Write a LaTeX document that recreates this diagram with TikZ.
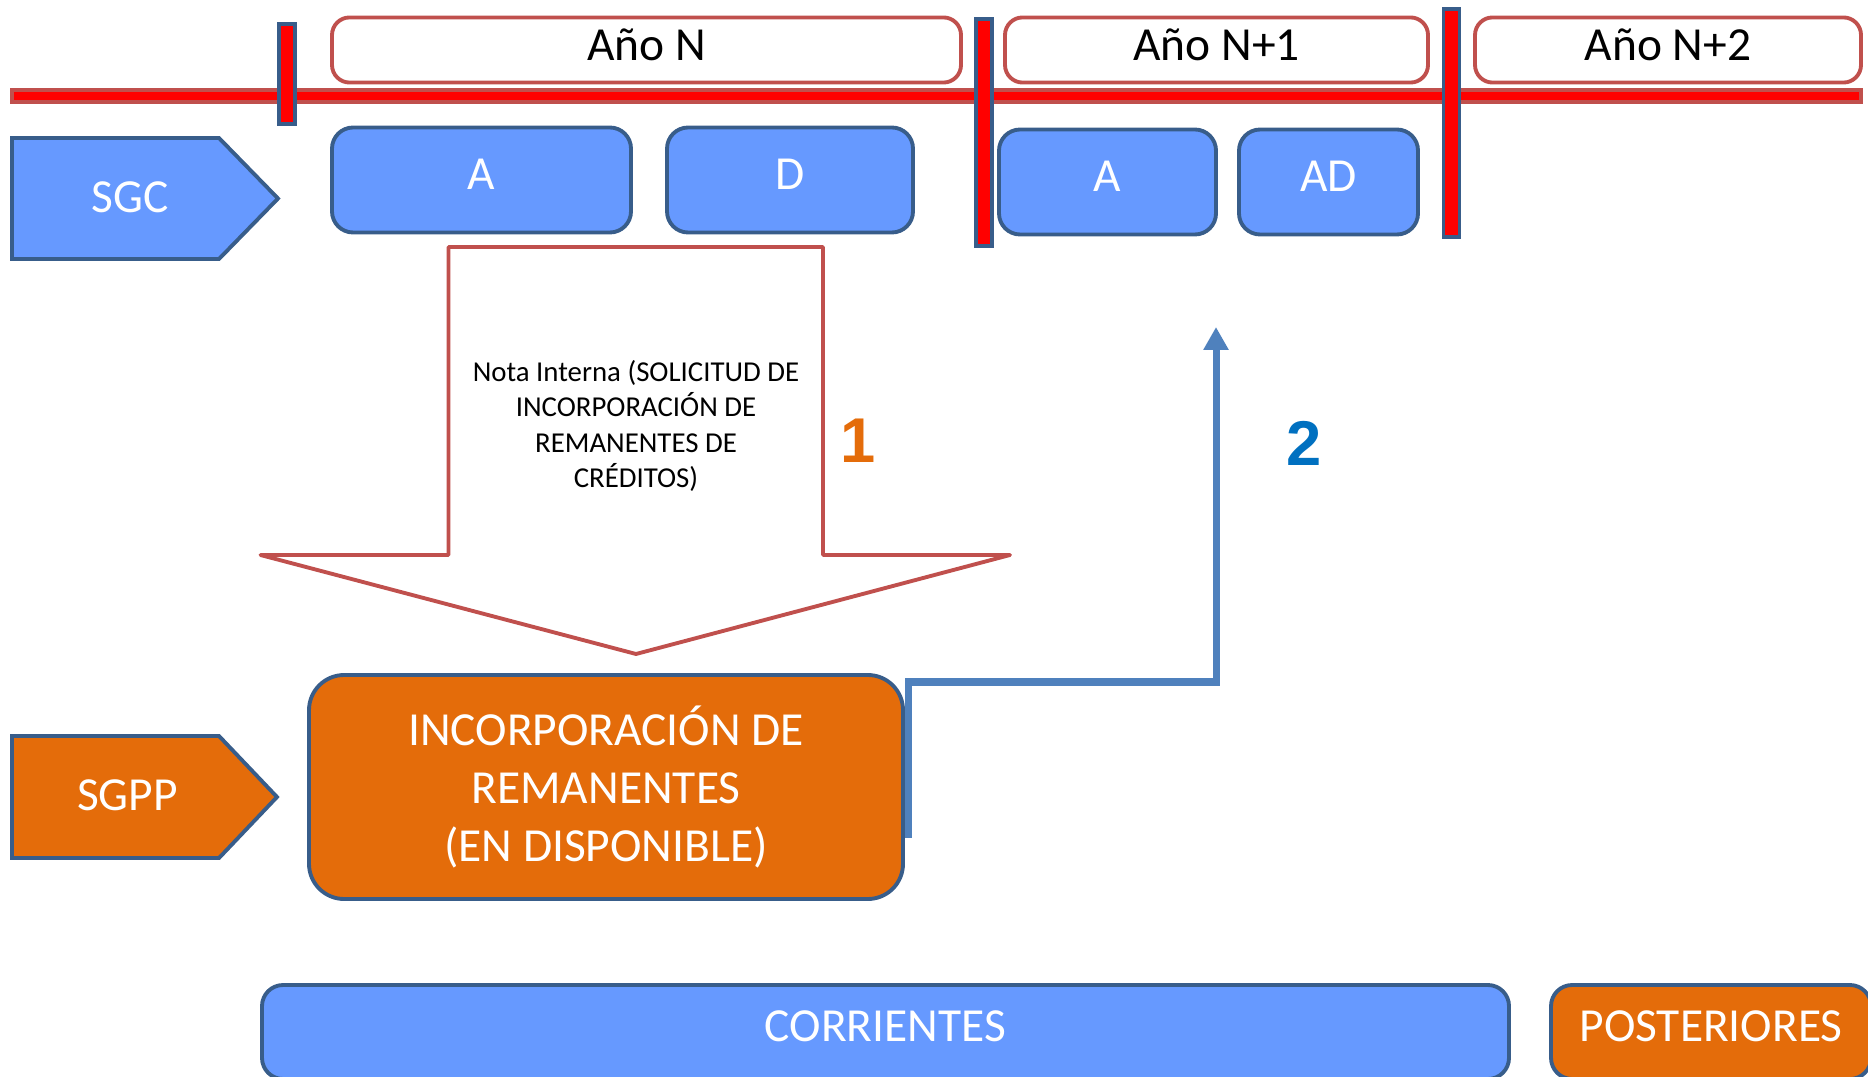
\documentclass[tikz,border=0pt]{standalone}
\usepackage{fontspec}
\setmainfont{Carlito}
\newfontfamily\numfont{Liberation Sans}
\usepackage{tikz}
\usetikzlibrary{calc}
\usetikzlibrary{arrows.meta}
\usetikzlibrary{positioning}
\definecolor{boxblue}{HTML}{6699FF}
\definecolor{edgeblue}{HTML}{385D8A}
\definecolor{edgered}{HTML}{C0504D}
\definecolor{boxorange}{HTML}{E46C0A}
\definecolor{linkblue}{HTML}{4F81BD}
\definecolor{numblue}{HTML}{0070C0}
\tikzset{year/.style={rectangle,rounded corners=5pt,draw=edgered,line width=1.1pt,fill=white,minimum height=0.62cm,text depth=0.1cm,font=\fontsize{13.5}{16}\selectfont}}
\tikzset{phase/.style={rectangle,rounded corners=6pt,draw=edgeblue,line width=1.1pt,fill=boxblue,text=white,minimum height=1.05cm,text depth=0.12cm,font=\fontsize{13.5}{16}\selectfont}}
\tikzset{tick/.style={draw=edgeblue,line width=1.1pt,fill=red}}
\tikzset{unit/.style={draw=edgeblue,line width=1.1pt}}
\tikzset{unitlabel/.style={text=white,font=\fontsize{13.5}{16}\selectfont}}
\tikzset{num/.style={font=\numfont\bfseries\fontsize{18}{18}\selectfont}}
\tikzset{link/.style={draw=linkblue,line width=2pt,-{Triangle[length=0.23cm,width=0.24cm]}}}

\begin{document}
\begin{tikzpicture}

\useasboundingbox (0,0) rectangle (18.68,10.76);
\clip (0,0) rectangle (18.68,10.76);

\draw[draw=edgered,line width=1.1pt,fill=red] (0.12,9.74) rectangle (18.61,9.86);

\foreach \x / \ya / \yb in {2.87/9.52/10.52, 9.84/8.30/10.57, 14.515/8.39/10.67}
{
	\draw[tick] (\x-0.08,\ya) rectangle (\x+0.08,\yb);
}

\node[year,minimum width=6.29cm] (yN) at (6.465,10.26) {Año N};
\node[year,minimum width=4.23cm] (yN1) at (12.165,10.26) {Año N+1};
\node[year,minimum width=3.86cm] (yN2) at (16.68,10.26) {Año N+2};

\draw[unit,fill=boxblue] (0.12,9.38) -- (2.19,9.38) -- (2.78,8.775) -- (2.19,8.17) -- (0.12,8.17) -- cycle;
\node[unitlabel] (sgc) at (1.30,8.79) {SGC};

\node[phase,minimum width=2.99cm] (aN) at (4.815,8.96) {A};
\node[phase,minimum width=2.46cm] (dN) at (7.90,8.96) {D};
\node[phase,minimum width=2.17cm] (aN1) at (11.075,8.94) {A};
\node[phase,minimum width=1.79cm] (adN1) at (13.285,8.94) {AD};

\draw[draw=edgered,line width=1.1pt,line join=round,fill=white] (4.485,8.29) -- (8.23,8.29) -- (8.23,5.21) -- (10.10,5.21) -- (6.36,4.22) -- (2.605,5.21) -- (4.485,5.21) -- cycle;
\node[font=\fontsize{8.2}{10}\selectfont,align=center] (nota) at (6.36,6.50) {Nota Interna (SOLICITUD DE\\INCORPORACIÓN DE\\REMANENTES DE\\CRÉDITOS)};

\node[num,text=boxorange] (n1) at (8.58,6.35) {1};
\node[num,text=numblue] (n2) at (13.04,6.33) {2};

\draw[unit,fill=boxorange] (0.12,3.40) -- (2.19,3.40) -- (2.77,2.79) -- (2.19,2.18) -- (0.12,2.18) -- cycle;
\node[unitlabel] (sgpp) at (1.275,2.81) {SGPP};

\node[phase,rounded corners=10pt,fill=boxorange,minimum width=5.94cm,minimum height=2.24cm,text depth=,align=center,font=\fontsize{13.5}{16.5}\selectfont] (inc) at (6.06,2.89) {INCORPORACIÓN DE\\REMANENTES\\(EN DISPONIBLE)};

\coordinate (up) at (12.16,7.49);
\draw[link] ([xshift=0.035cm,yshift=-0.51cm]inc.east) -- ++(0,1.56) -| (up);

\node[phase,minimum width=12.47cm,minimum height=0.94cm] (corr) at (8.855,0.44) {CORRIENTES};
\node[phase,fill=boxorange,minimum width=3.20cm,minimum height=0.94cm] (post) at (17.11,0.44) {POSTERIORES};

\end{tikzpicture}
\end{document}
